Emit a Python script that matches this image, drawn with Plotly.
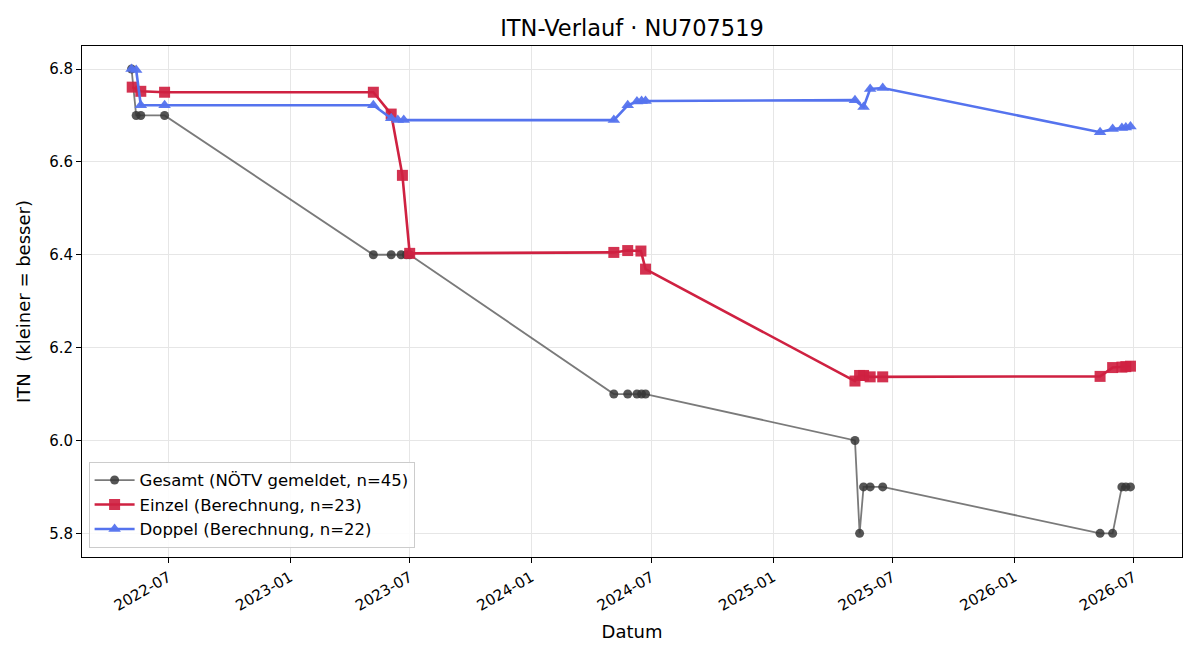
import plotly.graph_objects as go

# Gesamt (NÖTV gemeldet)
gesamt_dates = ["2022-05-06", "2022-05-13", "2022-05-20", "2022-06-25",
                "2023-05-07", "2023-06-03", "2023-06-18", "2023-06-26", "2023-07-01",
                "2024-05-05", "2024-05-26", "2024-06-09", "2024-06-16", "2024-06-22",
                "2025-05-05", "2025-05-12", "2025-05-18", "2025-05-28", "2025-06-16",
                "2026-05-11", "2026-05-30", "2026-06-13", "2026-06-19", "2026-06-26"]
gesamt_vals = [6.8, 6.7, 6.7, 6.7,
               6.4, 6.4, 6.4, 6.4, 6.4,
               6.1, 6.1, 6.1, 6.1, 6.1,
               6.0, 5.8, 5.9, 5.9, 5.9,
               5.8, 5.8, 5.9, 5.9, 5.9]

# Einzel (Berechnung)
einzel_dates = ["2022-05-07", "2022-05-20", "2022-06-25",
                "2023-05-07", "2023-06-03", "2023-06-20", "2023-07-01",
                "2024-05-05", "2024-05-26", "2024-06-15", "2024-06-22",
                "2025-05-05", "2025-05-12", "2025-05-18", "2025-05-28", "2025-06-16",
                "2026-05-11", "2026-05-30", "2026-06-13", "2026-06-19", "2026-06-26"]
einzel_vals = [6.761, 6.752, 6.75,
               6.75, 6.703, 6.571, 6.403,
               6.405, 6.409, 6.408, 6.369,
               6.128, 6.14, 6.14, 6.137, 6.137,
               6.138, 6.157, 6.158, 6.159, 6.16]

# Doppel (Berechnung)
doppel_dates = ["2022-05-06", "2022-05-13", "2022-05-20", "2022-06-25",
                "2023-05-07", "2023-06-03", "2023-06-13", "2023-06-22",
                "2024-05-05", "2024-05-26", "2024-06-09", "2024-06-16", "2024-06-22",
                "2025-05-05", "2025-05-18", "2025-05-28", "2025-06-16",
                "2026-05-11", "2026-05-30", "2026-06-13", "2026-06-19", "2026-06-26"]
doppel_vals = [6.8, 6.798, 6.722, 6.722,
               6.722, 6.694, 6.69, 6.69,
               6.69, 6.722, 6.73, 6.731, 6.731,
               6.733, 6.718, 6.757, 6.759,
               6.664, 6.671, 6.673, 6.674, 6.676]

tick_dates = ["2022-07-01", "2023-01-01", "2023-07-01", "2024-01-01", "2024-07-01",
              "2025-01-01", "2025-07-01", "2026-01-01", "2026-07-01"]
tick_labels = ["2022-07", "2023-01", "2023-07", "2024-01", "2024-07",
               "2025-01", "2025-07", "2026-01", "2026-07"]
y_ticks = [5.8, 6.0, 6.2, 6.4, 6.6, 6.8]
y_tick_labels = ["5.8", "6.0", "6.2", "6.4", "6.6", "6.8"]

fig = go.Figure()
fig.add_trace(go.Scatter(
    x=gesamt_dates, y=gesamt_vals, mode="lines+markers",
    name="Gesamt (NÖTV gemeldet, n=45)",
    line=dict(color="rgba(85,85,85,0.78)", width=1.8),
    marker=dict(symbol="circle", size=9, color="rgba(55,55,55,0.85)",
                line=dict(width=0)),
))
fig.add_trace(go.Scatter(
    x=einzel_dates, y=einzel_vals, mode="lines+markers",
    name="Einzel (Berechnung, n=23)",
    line=dict(color="#cf2141", width=2.6),
    marker=dict(symbol="square", size=11, color="rgba(207,33,65,0.92)",
                line=dict(width=0)),
))
fig.add_trace(go.Scatter(
    x=doppel_dates, y=doppel_vals, mode="lines+markers",
    name="Doppel (Berechnung, n=22)",
    line=dict(color="#5573ee", width=2.6),
    marker=dict(symbol="triangle-up", size=11, color="rgba(85,115,238,0.95)",
                line=dict(width=0)),
))

font = "DejaVu Sans"
fig.update_layout(
    width=1200, height=660,
    margin=dict(l=82, r=18, t=46, b=103),
    paper_bgcolor="white", plot_bgcolor="white",
    font=dict(family=font, size=15, color="black"),
    title=dict(text="ITN-Verlauf · NU707519", x=0.5, xref="paper", xanchor="center",
               y=1 - 28 / 660, yanchor="middle",
               font=dict(family=font, size=22.5, color="black")),
    showlegend=True,
    legend=dict(x=0.006, y=0.018, xanchor="left", yanchor="bottom",
                bgcolor="rgba(255,255,255,0.85)", bordercolor="#cccccc",
                borderwidth=1, font=dict(family=font, size=16.5),
                tracegroupgap=0, itemwidth=40),
    hovermode=False,
)
fig.update_xaxes(
    type="date", range=["2022-02-20", "2026-09-12"],
    tickvals=tick_dates, ticktext=tick_labels, tickangle=-30,
    showgrid=True, gridcolor="#e6e6e6", gridwidth=1,
    showline=True, linecolor="black", linewidth=1, mirror=True,
    ticks="outside", ticklen=5, tickcolor="black",
    tickfont=dict(family=font, size=15),
    title=dict(text="Datum", font=dict(family=font, size=18), standoff=11),
    zeroline=False,
)
fig.update_yaxes(
    range=[5.749, 6.8496],
    tickvals=y_ticks, ticktext=y_tick_labels,
    showgrid=True, gridcolor="#e6e6e6", gridwidth=1,
    showline=True, linecolor="black", linewidth=1, mirror=True,
    ticks="outside", ticklen=5, tickcolor="black",
    tickfont=dict(family=font, size=15),
    title=dict(text="ITN  (kleiner = besser)", font=dict(family=font, size=18), standoff=13),
    zeroline=False,
)

fig.write_html("out.html")
